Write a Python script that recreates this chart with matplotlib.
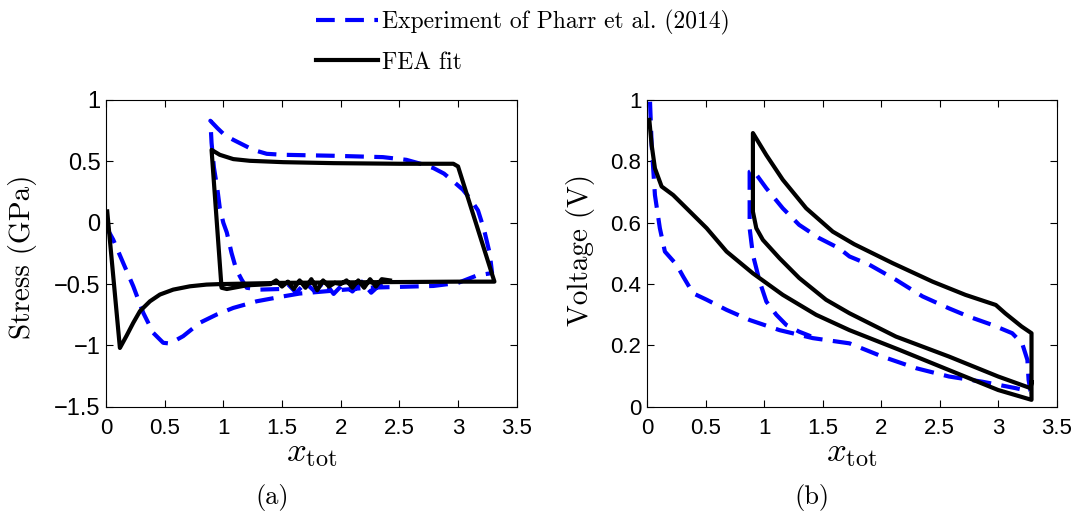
import matplotlib.pyplot as plt

plt.rcParams['mathtext.fontset'] = 'cm'
plt.rcParams['font.family'] = ['Liberation Sans', 'DejaVu Sans']

# (a) stress vs x_tot
stress_fea_x = [0.011, 0.119, 0.176, 0.233, 0.29, 0.375, 0.46, 0.573, 0.715, 0.857, 0.97, 1.5,
                2.2, 3.0, 3.31, 3.0, 2.96, 2.50, 1.94, 1.51, 1.227, 1.085, 0.97, 0.90,
                0.985, 1.03, 1.2, 1.40, 1.45, 1.50, 1.55, 1.60, 1.65, 1.70, 1.75, 1.80,
                1.85, 1.90, 1.95, 2.00, 2.05, 2.10, 2.15, 2.20, 2.25, 2.30, 2.35, 2.42]
stress_fea_y = [0.092, -1.02, -0.92, -0.815, -0.72, -0.64, -0.585, -0.545, -0.518, -0.504, -0.50, -0.49,
                -0.485, -0.48, -0.48, 0.458, 0.48, 0.48, 0.485, 0.493, 0.504, 0.518, 0.553, 0.593,
                -0.53, -0.54, -0.51, -0.50, -0.47, -0.52, -0.48, -0.54, -0.47, -0.53, -0.46, -0.55,
                -0.47, -0.52, -0.49, -0.50, -0.47, -0.53, -0.47, -0.53, -0.46, -0.52, -0.46, -0.47]
stress_exp_x = [0.0, 0.062, 0.147, 0.233, 0.318, 0.403, 0.488, 0.545, 0.658, 0.80, 0.943, 1.085,
                1.284, 1.51, 1.65, 2.22, 2.79, 3.0, 3.16, 3.29, 3.27, 3.22, 3.17, 3.10, 3.04,
                2.96, 2.88, 2.79, 2.68, 2.56, 2.36, 1.94, 1.51, 1.37, 1.255, 1.085, 1.01, 0.95,
                0.89, 0.90, 0.92, 0.95, 0.97, 1.0, 1.03, 1.07, 1.11, 1.156, 1.2, 1.31, 1.48,
                1.55, 1.62, 1.70, 1.78, 1.86, 1.94, 2.02, 2.10, 2.18, 2.26, 2.34, 2.42]
stress_exp_y = [-0.03, -0.138, -0.328, -0.518, -0.734, -0.897, -0.978, -0.984, -0.924, -0.815, -0.748, -0.694,
                -0.64, -0.60, -0.577, -0.53, -0.515, -0.49, -0.43, -0.41, -0.25, -0.05, 0.10, 0.20, 0.27,
                0.336, 0.40, 0.445, 0.48, 0.512, 0.534, 0.545, 0.553, 0.561, 0.593, 0.675, 0.715, 0.77,
                0.83, 0.65, 0.45, 0.27, 0.12, 0.0, -0.08, -0.246, -0.38, -0.463, -0.53, -0.545, -0.54,
                -0.50, -0.57, -0.49, -0.56, -0.48, -0.58, -0.50, -0.56, -0.48, -0.57, -0.50, -0.515]

# (b) voltage vs x_tot
volt_fea_x = [0.02, 0.04, 0.068, 0.125, 0.224, 0.338, 0.51, 0.68, 0.905, 1.16, 1.445, 1.73,
              2.155, 2.58, 3.0, 3.285, 3.285, 3.20, 3.06, 2.98, 2.72, 2.44, 2.10, 1.77,
              1.587, 1.36, 1.16, 1.02, 0.905, 0.905, 0.934, 0.99, 1.133, 1.30, 1.53, 1.73,
              2.127, 2.58, 3.0, 3.277, 3.285]
volt_fea_y = [0.935, 0.853, 0.777, 0.718, 0.69, 0.647, 0.582, 0.506, 0.435, 0.365, 0.30, 0.25,
              0.186, 0.12, 0.055, 0.023, 0.24, 0.262, 0.305, 0.332, 0.365, 0.408, 0.468, 0.53,
              0.571, 0.647, 0.74, 0.82, 0.892, 0.636, 0.582, 0.544, 0.484, 0.42, 0.349, 0.305,
              0.229, 0.164, 0.099, 0.061, 0.08]
volt_exp_x = [0.026, 0.04, 0.068, 0.11, 0.153, 0.253, 0.31, 0.394, 0.51, 0.68, 0.877, 1.133,
              1.417, 1.73, 2.01, 2.30, 2.58, 2.865, 3.15, 3.277, 3.26, 3.25, 3.205, 3.12,
              2.95, 2.75, 2.58, 2.354, 2.127, 1.90, 1.73, 1.64, 1.47, 1.30, 1.16, 1.02,
              0.905, 0.877, 0.877, 0.905, 0.963, 1.02, 1.105, 1.19, 1.30, 1.40]
volt_exp_y = [0.994, 0.853, 0.69, 0.582, 0.506, 0.463, 0.424, 0.37, 0.349, 0.316, 0.283, 0.25,
              0.224, 0.207, 0.164, 0.126, 0.099, 0.082, 0.061, 0.05, 0.088, 0.153, 0.207, 0.24,
              0.267, 0.294, 0.321, 0.36, 0.414, 0.463, 0.49, 0.517, 0.55, 0.593, 0.647, 0.712,
              0.772, 0.766, 0.582, 0.495, 0.408, 0.343, 0.30, 0.267, 0.245, 0.23]

fig = plt.figure(figsize=(10.81, 5.19), dpi=100)
ax1 = fig.add_axes([0.098, 0.216, 0.380, 0.5915])
ax2 = fig.add_axes([0.5985, 0.216, 0.379, 0.5915])

exp_style = dict(color='blue', lw=3, dashes=(4.5, 2.5), solid_joinstyle='round')
fea_style = dict(color='black', lw=3, solid_joinstyle='round')

ax1.plot(stress_exp_x, stress_exp_y, label='Experiment of Pharr et al. (2014)', **exp_style)
ax1.plot(stress_fea_x, stress_fea_y, label='FEA fit', **fea_style)
ax2.plot(volt_exp_x, volt_exp_y, **exp_style)
ax2.plot(volt_fea_x, volt_fea_y, **fea_style)

ax1.set_xlim(0, 3.5)
ax1.set_ylim(-1.5, 1)
ax1.set_yticks([-1.5, -1, -0.5, 0, 0.5, 1])
ax1.set_yticklabels(['\u22121.5', '\u22121', '\u22120.5', '0', '0.5', '1'])
ax2.set_xlim(0, 3.5)
ax2.set_ylim(0, 1)
ax2.set_yticks([0, 0.2, 0.4, 0.6, 0.8, 1])
ax2.set_yticklabels(['0', '0.2', '0.4', '0.6', '0.8', '1'])

for ax in (ax1, ax2):
    ax.set_xticks([0, 0.5, 1, 1.5, 2, 2.5, 3, 3.5])
    ax.set_xticklabels(['0', '0.5', '1', '1.5', '2', '2.5', '3', '3.5'])
    ax.tick_params(direction='in', top=True, right=True, length=5, width=0.8,
                   labelsize=16, pad=4)
    ax.tick_params(axis='x', pad=8)
    for s in ax.spines.values():
        s.set_linewidth(0.8)
    ax.set_xlabel(r'$x_{\mathrm{tot}}$', fontsize=25, va='top')
    ax.xaxis.set_label_coords(0.5, -0.095)
ax1.tick_params(axis='y', labelsize=17)

ax1.set_ylabel('Stress (GPa)', family='cmr10', fontsize=21)
ax1.yaxis.set_label_coords(-0.168, 0.49)
ax2.set_ylabel('Voltage (V)', family='cmr10', fontsize=21)
ax2.yaxis.set_label_coords(-0.127, 0.51)

fig.text(0.252, 0.041, '(a)', family='cmr10', fontsize=19, ha='center', va='center')
fig.text(0.751, 0.041, '(b)', family='cmr10', fontsize=19, ha='center', va='center')

leg = fig.legend(loc='upper left', bbox_to_anchor=(0.273, 1.022), frameon=False,
                 prop={'family': 'cmr10', 'size': 17}, handlelength=2.6,
                 handletextpad=0.2, labelspacing=0.7)

fig.savefig('out.png', dpi=100)
